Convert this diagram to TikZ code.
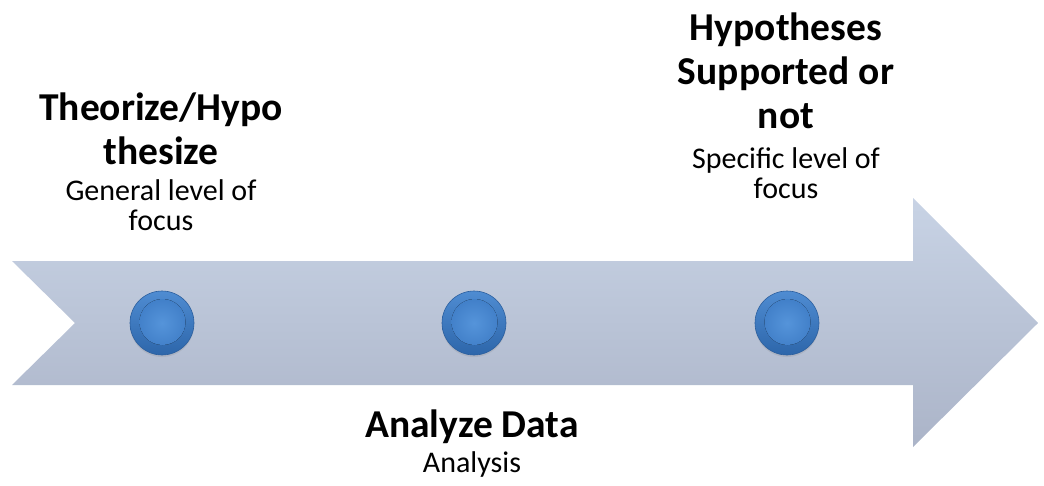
\documentclass[tikz,border=0pt]{standalone}
\usepackage{fontspec}
\setmainfont{Carlito}
\usepackage{tikz}
\usetikzlibrary{shadows}
\pgfdeclarelayer{bg}
\pgfsetlayers{bg,main}
\definecolor{bartop}{HTML}{C8D3E5}
\definecolor{barbot}{HTML}{ABB4C8}
\definecolor{dotedge}{HTML}{2C5F9E}
\definecolor{dottop}{HTML}{4F8CD2}
\definecolor{dotbot}{HTML}{2D66AA}
\definecolor{dotlight}{HTML}{5594DA}
\definecolor{dotmid}{HTML}{3B79C3}
\tikzset{
  dot/.style={circle, minimum size=64pt, inner sep=0pt, draw=dotedge,
    line width=0.6pt, top color=dottop, bottom color=dotbot,
    drop shadow={opacity=0.2, shadow xshift=0pt, shadow yshift=-2pt},
    path picture={\fill[inner color=dotlight, outer color=dotmid]
      ([xshift=0.5pt,yshift=1pt]path picture bounding box.center) circle (23pt);}},
  head/.style={anchor=north, inner sep=0pt, align=center,
    font=\fontsize{39.5}{44}\selectfont\bfseries},
  sub/.style={anchor=north, inner sep=0pt, align=center,
    font=\fontsize{30}{30}\selectfont}
}

\begin{document}
\begin{tikzpicture}[x=1pt, y=-1pt]
        \useasboundingbox (0,0) rectangle (1044,485);
        \node (d0) [dot] at (162, 323) {};
        \node (d1) [dot] at (474, 323) {};
        \node (d2) [dot] at (787, 323) {};
        \node (h0) [head] at (161, 93) {Theorize/Hypo\\thesize};
        \node (s0) [sub] at (161, 179) {General level of\\focus};
        \node (h1) [head] at (472, 410) {Analyze Data};
        \node (s1) [sub] at (472, 451) {Analysis};
        \node (h2) [head] at (786, 13) {Hypotheses\\Supported or\\not};
        \node (s2) [sub] at (786, 147) {Specific level of\\focus};
        \begin{pgfonlayer}{bg}
                \shade[top color=bartop, bottom color=barbot]
                  (12,261) -- (913,261) -- (913,198) -- (1038,323) -- (913,447)
                  -- (913,385) -- (12,385) -- (75,323) -- cycle;
        \end{pgfonlayer}
\end{tikzpicture}
\end{document}
